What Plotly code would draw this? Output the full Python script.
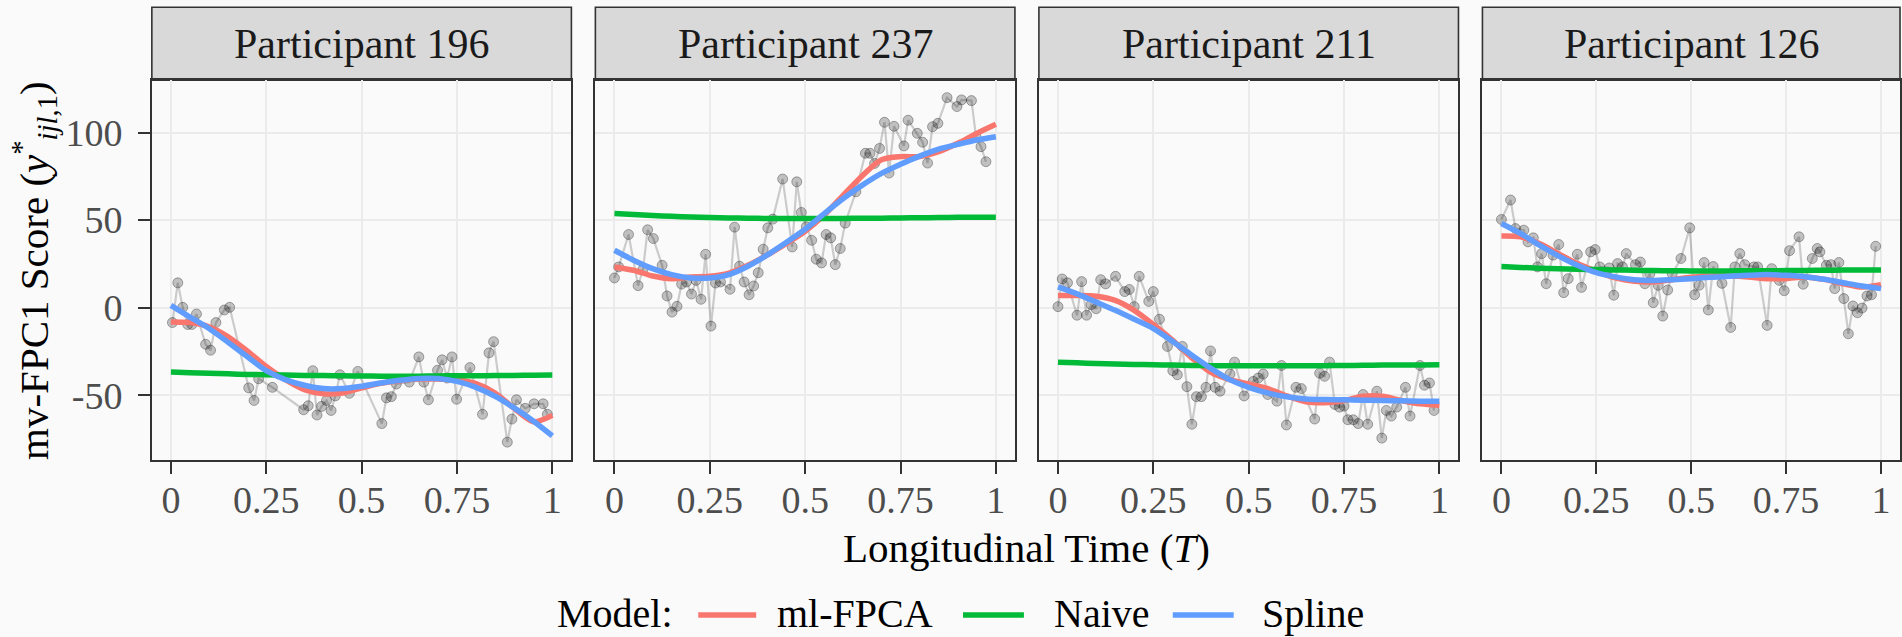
import plotly.graph_objects as go

# ---- observed mv-FPC1 scores per participant (longitudinal time, score) ----
t_196 = [0.004, 0.018, 0.031, 0.044, 0.055, 0.067, 0.091, 0.104, 0.118, 0.140, 0.154, 0.204, 0.218,
         0.230, 0.266, 0.348, 0.360, 0.372, 0.383, 0.395, 0.408, 0.420, 0.431, 0.443, 0.468, 0.490,
         0.553, 0.565, 0.578, 0.591, 0.625, 0.650, 0.663, 0.675, 0.699, 0.711, 0.724, 0.737, 0.749,
         0.784, 0.817, 0.834, 0.846, 0.882, 0.894, 0.906, 0.929, 0.952, 0.976, 0.987]
y_196 = [-8.5, 14.2, 0.2, -9.6, -9.6, -3.6, -20.9, -24.3, -8.5, -1.3, 0.2, -45.8, -53.0,
         -40.6, -45.5, -58.3, -56.0, -36.0, -61.3, -56.4, -53.0, -58.7, -50.4, -38.3, -48.9, -36.4,
         -66.2, -51.5, -50.8, -43.6, -42.5, -28.1, -42.5, -52.6, -35.7, -29.8, -40.2, -28.1, -52.3,
         -34.2, -60.9, -25.8, -19.4, -76.8, -63.6, -52.6, -57.5, -54.9, -54.9, -60.9]

t_237 = [0.000, 0.011, 0.037, 0.062, 0.075, 0.087, 0.102, 0.125, 0.138, 0.151, 0.164, 0.176, 0.189,
         0.202, 0.214, 0.227, 0.239, 0.253, 0.265, 0.278, 0.303, 0.315, 0.328, 0.340, 0.353, 0.365,
         0.377, 0.390, 0.402, 0.415, 0.441, 0.466, 0.478, 0.490, 0.503, 0.517, 0.529, 0.543, 0.555,
         0.567, 0.579, 0.592, 0.605, 0.633, 0.658, 0.670, 0.682, 0.695, 0.708, 0.720, 0.733, 0.759,
         0.770, 0.794, 0.808, 0.821, 0.834, 0.848, 0.872, 0.898, 0.910, 0.936, 0.948, 0.961, 0.974]
y_237 = [17.0, 23.3, 41.8, 12.6, 21.9, 44.5, 39.5, 24.2, 6.7, -2.5, 0.8, 13.5, 14.7,
         7.8, 15.6, 4.8, 30.5, -10.5, 14.1, 14.7, 10.5, 46.0, 23.7, 14.7, 7.4, 12.4,
         20.0, 33.4, 45.6, 50.6, 73.5, 34.7, 71.9, 54.4, 46.2, 38.5, 27.7, 25.6, 41.8,
         39.9, 24.6, 33.8, 48.3, 66.2, 88.2, 88.2, 82.4, 91.0, 105.9, 76.9, 103.6, 92.4,
         107.1, 99.6, 94.5, 82.6, 103.4, 105.3, 120.0, 114.9, 118.7, 118.3, 97.7, 92.0, 83.4]

t_211 = [0.000, 0.011, 0.025, 0.050, 0.062, 0.075, 0.087, 0.100, 0.112, 0.125, 0.151, 0.175, 0.187,
         0.200, 0.213, 0.238, 0.250, 0.266, 0.287, 0.301, 0.313, 0.326, 0.338, 0.351, 0.363, 0.376,
         0.388, 0.400, 0.412, 0.425, 0.451, 0.463, 0.488, 0.512, 0.525, 0.538, 0.550, 0.574, 0.586,
         0.599, 0.624, 0.638, 0.673, 0.686, 0.699, 0.712, 0.726, 0.738, 0.750, 0.760, 0.774, 0.787,
         0.800, 0.812, 0.836, 0.849, 0.861, 0.874, 0.888, 0.911, 0.923, 0.949, 0.961, 0.974, 0.986]
y_211 = [0.6, 16.4, 14.2, -4.3, 14.9, -4.3, 1.7, -0.6, 16.0, 13.6, 17.9, 9.2, 10.4,
         0.6, 17.9, 3.6, 9.2, -6.6, -22.1, -36.0, -38.3, -22.1, -45.1, -66.6, -50.8, -50.8,
         -45.5, -24.7, -45.5, -47.7, -37.9, -31.1, -50.4, -42.1, -40.2, -37.9, -49.6, -53.4, -33.0,
         -67.0, -45.5, -46.2, -63.6, -37.4, -39.2, -31.1, -55.3, -56.8, -56.2, -64.0, -64.0, -66.2,
         -49.6, -66.6, -47.7, -74.5, -58.7, -61.9, -56.8, -45.5, -61.9, -33.0, -44.3, -43.0, -58.7]

t_126 = [0.000, 0.024, 0.037, 0.059, 0.070, 0.084, 0.095, 0.106, 0.118, 0.136, 0.151, 0.164, 0.176,
         0.200, 0.211, 0.235, 0.247, 0.259, 0.284, 0.296, 0.306, 0.319, 0.329, 0.353, 0.366, 0.378,
         0.391, 0.400, 0.413, 0.425, 0.438, 0.450, 0.473, 0.496, 0.509, 0.521, 0.534, 0.545, 0.558,
         0.581, 0.604, 0.615, 0.628, 0.641, 0.665, 0.675, 0.700, 0.712, 0.732, 0.745, 0.759, 0.784,
         0.795, 0.819, 0.832, 0.839, 0.856, 0.868, 0.878, 0.889, 0.902, 0.914, 0.926, 0.938, 0.950,
         0.963, 0.975, 0.986]
y_126 = [50.4, 61.5, 45.2, 44.3, 37.6, 39.9, 23.3, 30.9, 13.7, 30.0, 36.1, 8.6, 16.6,
         30.5, 11.6, 31.9, 33.2, 23.3, 22.7, 7.1, 25.2, 23.3, 30.9, 24.6, 26.1, 13.7,
         19.4, 2.9, 12.8, -4.8, 10.1, 19.4, 28.1, 45.6, 7.4, 12.8, 25.8, -1.3, 23.5,
         13.9, -11.3, 23.3, 30.9, 24.6, 23.3, 23.3, -10.1, 22.3, 15.6, 9.7, 32.6, 40.5,
         13.4, 28.1, 33.8, 31.9, 24.2, 24.6, 10.9, 25.8, 5.2, -14.9, 1.0, -2.9, -0.2,
         6.7, 7.4, 35.1]

# ---- fitted trajectories on a common time grid ----
t_grid = [0.00, 0.05, 0.10, 0.15, 0.20, 0.25, 0.30, 0.35, 0.40, 0.45, 0.50,
          0.55, 0.60, 0.65, 0.70, 0.75, 0.80, 0.85, 0.90, 0.95, 1.00]

fpca_196 = [-8.1, -8.5, -10.9, -16.6, -24.7, -33.6, -41.1, -46.8, -49.2, -48.7, -45.8,
            -43.2, -41.7, -40.8, -40.8, -41.1, -43.4, -48.7, -57.5, -65.1, -61.5]
naive_196 = [-36.8, -37.2, -37.5, -37.8, -38.1, -38.3, -38.5, -38.7, -38.8, -38.9, -39.0,
             -39.1, -39.1, -39.1, -39.0, -38.9, -38.9, -38.8, -38.7, -38.6, -38.5]
spline_196 = [1.3, -5.4, -11.9, -19.8, -27.9, -36.0, -41.1, -44.3, -46.2, -46.2, -44.9,
              -43.0, -41.5, -40.4, -40.4, -42.1, -45.5, -50.6, -57.2, -64.7, -73.2]

fpca_237 = [23.3, 21.4, 18.1, 16.6, 17.6, 17.9, 19.8, 24.2, 30.0, 36.6, 43.7,
            52.9, 64.3, 75.4, 84.5, 86.3, 86.3, 89.1, 93.9, 99.6, 104.8]
naive_237 = [53.8, 53.2, 52.7, 52.2, 51.8, 51.5, 51.3, 51.1, 51.0, 51.0, 51.0,
             51.0, 51.0, 51.1, 51.1, 51.3, 51.4, 51.5, 51.6, 51.6, 51.7]
spline_237 = [32.8, 27.1, 22.3, 18.9, 17.0, 17.0, 18.9, 23.7, 30.0, 37.2, 44.8,
              53.8, 62.4, 70.0, 76.7, 81.9, 86.6, 90.6, 93.3, 95.8, 97.7]

fpca_211 = [7.0, 7.0, 6.6, 4.2, -1.5, -9.6, -18.5, -28.5, -36.8, -41.1, -43.6,
            -46.2, -50.4, -53.8, -54.3, -53.0, -50.6, -50.6, -53.0, -54.9, -55.7]
naive_211 = [-31.1, -31.5, -31.9, -32.2, -32.4, -32.6, -32.8, -33.0, -33.1, -33.2, -33.2,
             -33.2, -33.2, -33.2, -33.1, -33.0, -32.9, -32.8, -32.7, -32.7, -32.6]
spline_211 = [11.9, 7.9, 3.2, -1.5, -6.6, -11.9, -19.1, -27.0, -34.5, -41.1, -45.5,
              -48.7, -50.9, -52.1, -52.5, -52.6, -52.8, -53.0, -53.2, -53.4, -53.4]

fpca_126 = [41.0, 40.5, 36.6, 30.9, 25.2, 20.8, 17.0, 15.1, 14.7, 16.0, 17.4,
            18.1, 18.1, 17.6, 16.6, 16.6, 17.6, 16.2, 13.7, 11.8, 13.2]
naive_126 = [23.5, 23.0, 22.6, 22.3, 22.0, 21.8, 21.6, 21.4, 21.2, 21.1, 21.0,
             21.0, 21.0, 21.1, 21.1, 21.2, 21.3, 21.4, 21.5, 21.5, 21.6]
spline_126 = [48.1, 42.4, 35.7, 29.6, 24.2, 20.0, 17.6, 16.0, 15.6, 16.0, 16.6,
              17.4, 17.9, 18.5, 18.9, 18.5, 17.7, 16.2, 14.3, 12.4, 10.9]

participants = ["196", "237", "211", "126"]
model_names = ["ml-FPCA", "Naive", "Spline"]
model_colors = ["#F8766D", "#00BA38", "#619CFF"]

x_ticks = [0, 0.25, 0.5, 0.75, 1]
x_ticktext = ["0", "0.25", "0.5", "0.75", "1"]
y_ticks = [-50, 0, 50, 100]
y_ticktext = ["-50", "0", "50", "100"]

panels = [
    (t_196, y_196, [fpca_196, naive_196, spline_196]),
    (t_237, y_237, [fpca_237, naive_237, spline_237]),
    (t_211, y_211, [fpca_211, naive_211, spline_211]),
    (t_126, y_126, [fpca_126, naive_126, spline_126]),
]

# ---- page geometry (pixels) ----
W, H = 1902, 637
panel_px = [(152, 572), (596, 1016), (1040, 1460), (1484, 1902)]
plot_top, plot_bottom = 80.3, 460.0
strip_top = 7.3

FONT = "Liberation Serif, Times New Roman, serif"
BG = "#FAFAFA"
GRID = "#EBEBEB"
DARK = "#333333"


def px(x):
    return x / W


def py(y):
    return 1 - y / H


fig = go.Figure()
layout_axes = {}
shapes = []
annotations = []

for i, (pid, (tt, yy, fits)) in enumerate(zip(participants, panels)):
    n = "" if i == 0 else str(i + 1)
    xa, ya = "x" + n, "y" + n

    fig.add_trace(go.Scatter(
        x=tt, y=yy, mode="lines+markers", xaxis=xa, yaxis=ya, showlegend=False,
        line=dict(color="rgba(0,0,0,0.19)", width=2.2),
        marker=dict(size=10, color="rgba(0,0,0,0.23)",
                    line=dict(color="rgba(0,0,0,0.3)", width=1)),
        hoverinfo="skip",
    ))
    for name, color, fit in zip(model_names, model_colors, fits):
        fig.add_trace(go.Scatter(
            x=t_grid, y=fit, mode="lines", xaxis=xa, yaxis=ya, name=name,
            showlegend=False,
            line=dict(color=color, width=5.5, shape="spline", smoothing=0.8),
        ))

    x0, x1 = panel_px[i]
    layout_axes["xaxis" + n] = dict(
        domain=[px(x0), px(x1)], anchor=ya, range=[-0.05, 1.05],
        tickvals=x_ticks, ticktext=x_ticktext, ticks="outside", ticklen=12,
        tickwidth=1.6, tickcolor=DARK, showline=True, linecolor=DARK, linewidth=1.6,
        mirror=True, showgrid=True, gridcolor=GRID, gridwidth=1.5, zeroline=False,
        tickfont=dict(family=FONT, size=38, color="#4D4D4D"), ticklabelstandoff=-6,
    )
    layout_axes["yaxis" + n] = dict(
        domain=[py(plot_bottom), py(plot_top)], anchor=xa, range=[-87.0, 129.9],
        tickvals=y_ticks, ticktext=y_ticktext, ticks="outside" if i == 0 else "",
        ticklen=12, tickwidth=1.6, tickcolor=DARK, showticklabels=(i == 0),
        showline=True, linecolor=DARK, linewidth=1.6, mirror=True,
        showgrid=True, gridcolor=GRID, gridwidth=1.5, zeroline=False,
        tickfont=dict(family=FONT, size=38, color="#4D4D4D"), ticklabelstandoff=8,
    )

    # facet strip
    shapes.append(dict(type="rect", xref="paper", yref="paper",
                       x0=px(x0), x1=px(x1), y0=py(plot_top), y1=py(strip_top),
                       fillcolor="#D9D9D9", line=dict(color=DARK, width=1.6), layer="below"))
    annotations.append(dict(text="Participant " + pid, xref="paper", yref="paper",
                            x=px((x0 + x1) / 2), y=py((strip_top + plot_top) / 2),
                            xanchor="center", yanchor="middle", showarrow=False,
                            font=dict(family=FONT, size=42, color="#1A1A1A")))

annotations.append(dict(text="Longitudinal Time (<i>T</i>)", xref="paper", yref="paper",
                        x=px(1028), y=py(548), xanchor="center", yanchor="middle",
                        showarrow=False, font=dict(family=FONT, size=41, color="black")))
annotations.append(dict(text="mv-FPC1 Score (<i>y</i><sup>*</sup><sub><i>ijl</i>,1</sub>)",
                        xref="paper", yref="paper", x=px(34), y=py(270), textangle=-90,
                        xanchor="center", yanchor="middle", showarrow=False,
                        font=dict(family=FONT, size=41, color="black")))

# ---- legend: title, colour keys and labels ----
legend_y = 613
annotations.append(dict(text="Model:", xref="paper", yref="paper", x=px(556), y=py(legend_y),
                        xanchor="left", yanchor="middle", showarrow=False,
                        font=dict(family=FONT, size=40, color="black")))
key_px = [(699, 757, 776), (964, 1025, 1053), (1174, 1235, 1261)]
for name, color, (k0, k1, tx) in zip(model_names, model_colors, key_px):
    shapes.append(dict(type="line", xref="paper", yref="paper",
                       x0=px(k0), x1=px(k1), y0=py(legend_y + 2), y1=py(legend_y + 2),
                       line=dict(color=color, width=5.5)))
    annotations.append(dict(text=name, xref="paper", yref="paper", x=px(tx), y=py(legend_y),
                            xanchor="left", yanchor="middle", showarrow=False,
                            font=dict(family=FONT, size=40, color="black")))

fig.update_layout(
    width=W, height=H, autosize=False,
    margin=dict(l=0, r=0, t=0, b=0),
    paper_bgcolor=BG, plot_bgcolor=BG, showlegend=False,
    shapes=shapes, annotations=annotations,
    **layout_axes,
)

fig.write_html("out.html")
